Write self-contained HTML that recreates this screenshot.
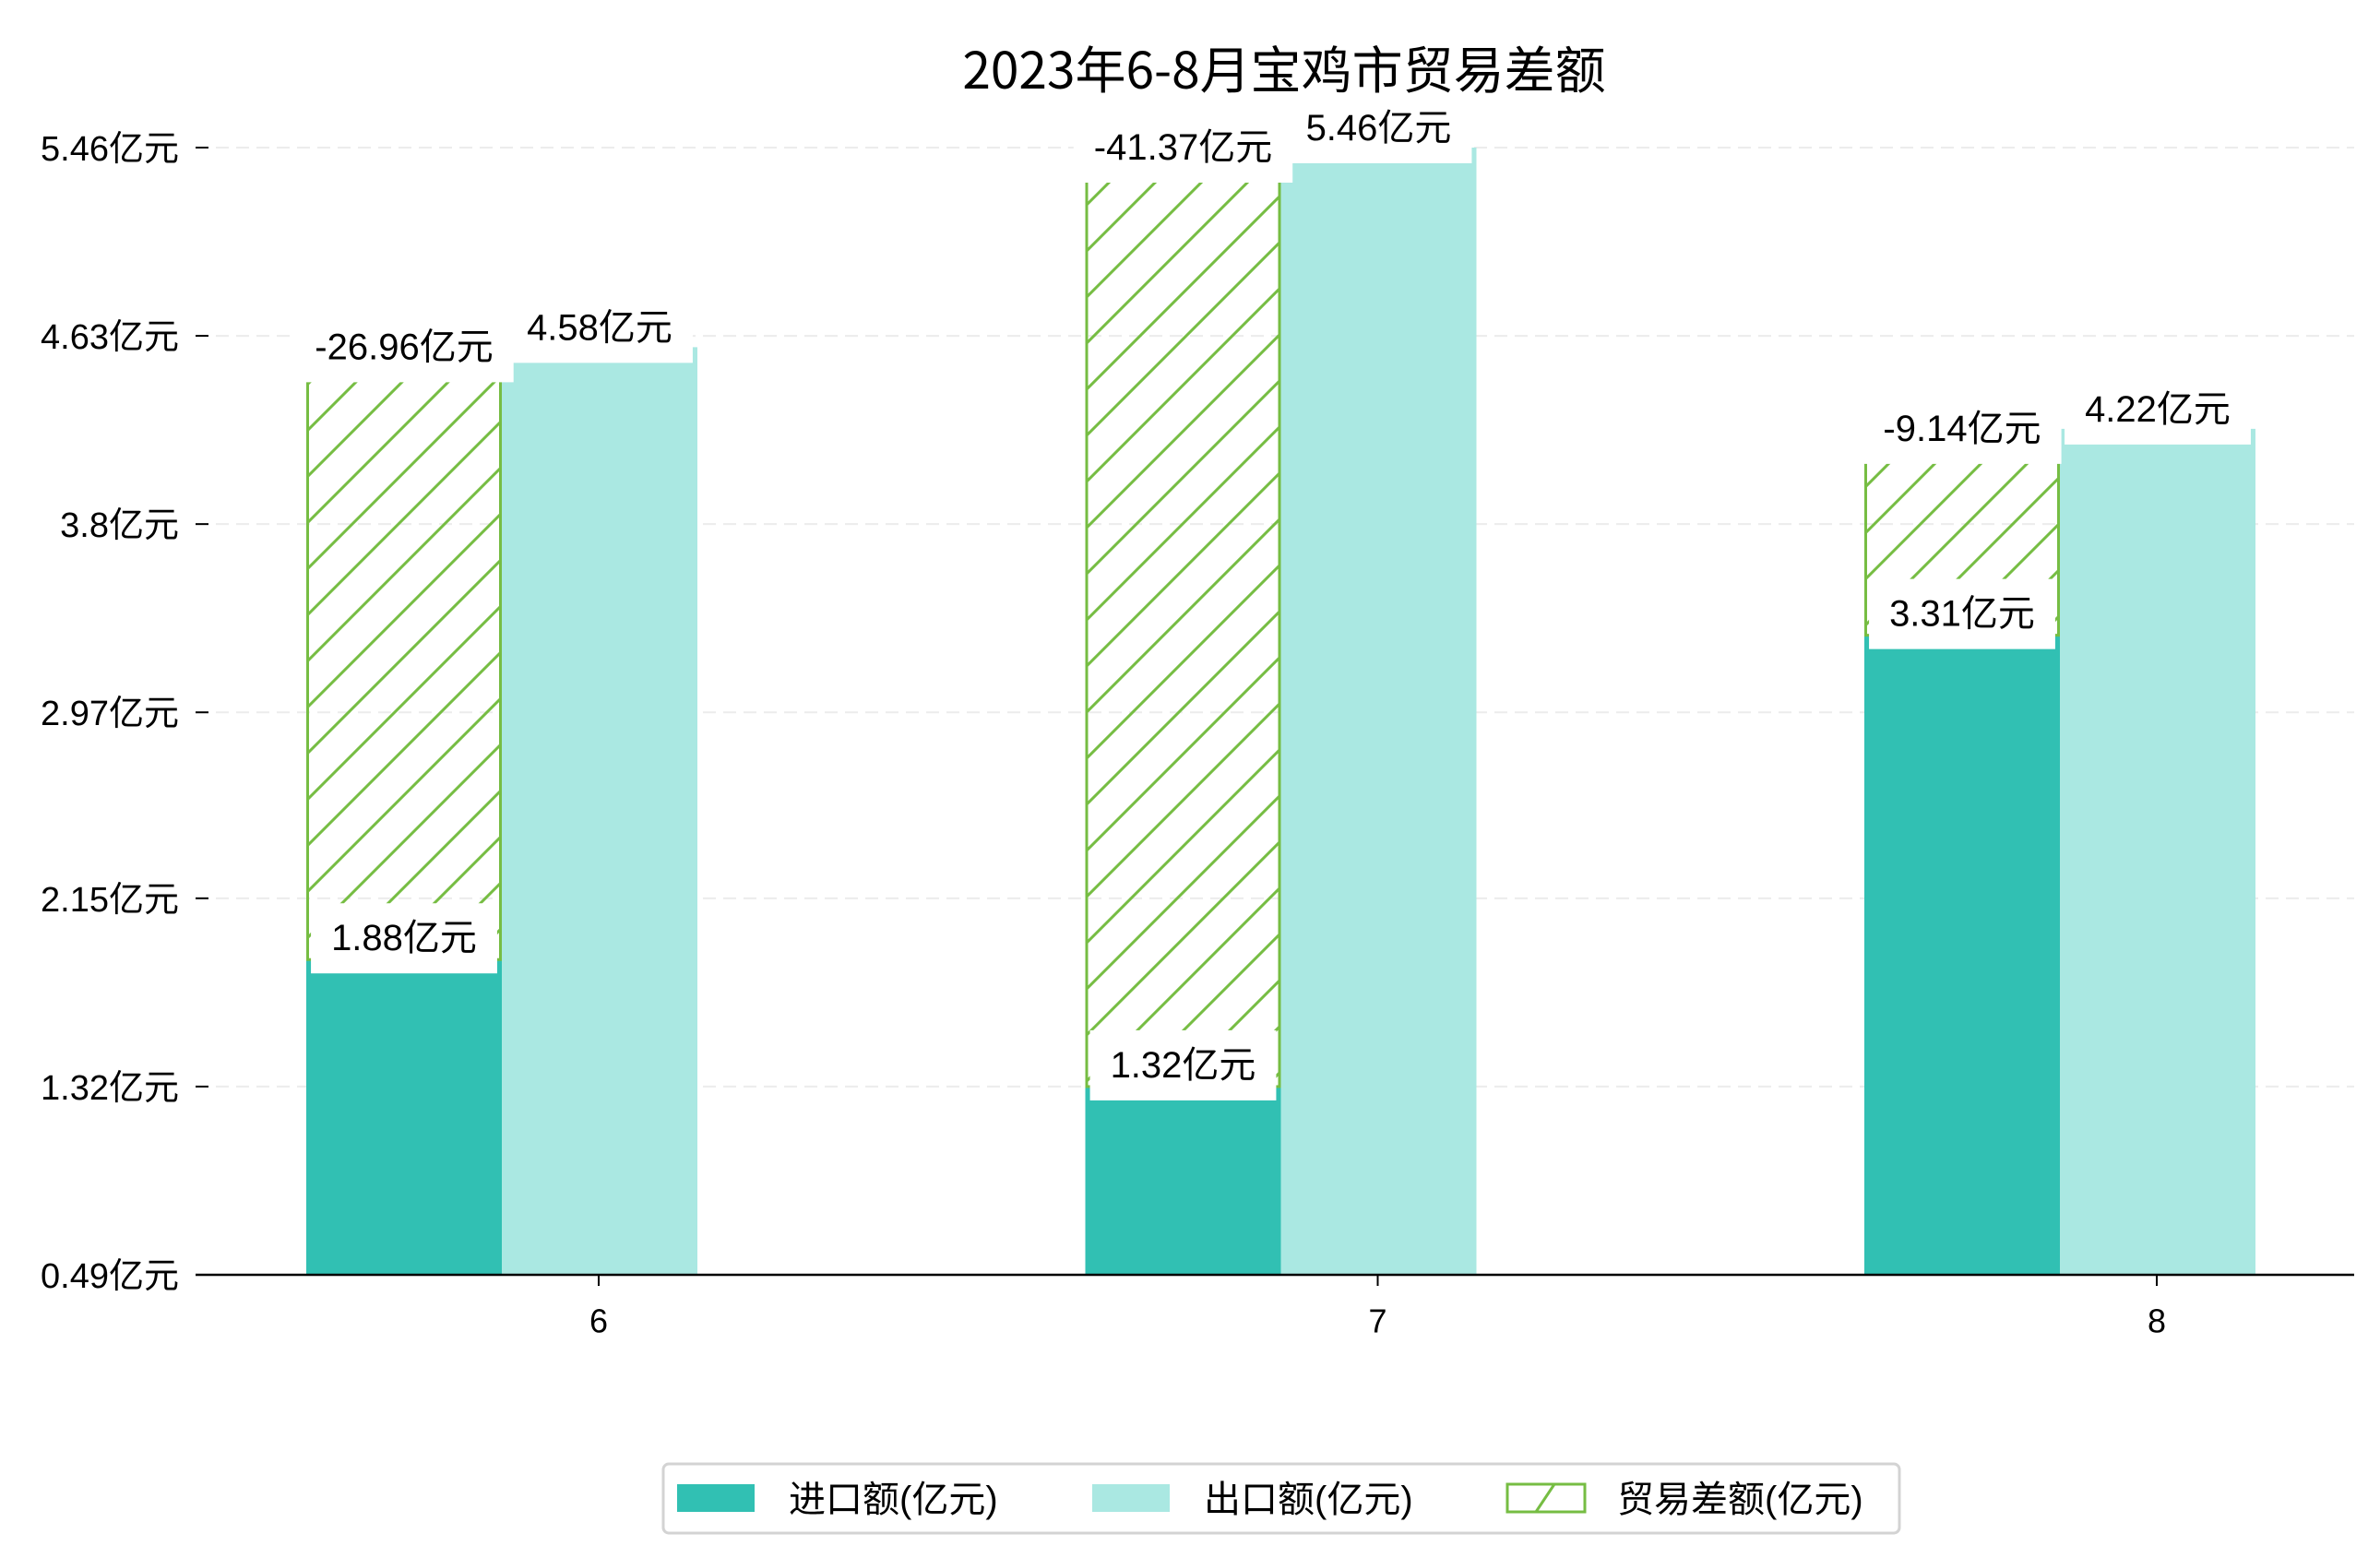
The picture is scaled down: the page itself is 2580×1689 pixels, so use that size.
<!DOCTYPE html>
<html><head><meta charset="utf-8"><style>
html,body{margin:0;padding:0;background:#fff;}
svg{display:block;font-family:"Liberation Sans","Noto Sans CJK SC",sans-serif;}
</style></head><body>
<svg id="chart" width="2580" height="1689" viewBox="0 0 2580 1689" xmlns="http://www.w3.org/2000/svg">
<defs>
<pattern id="hatch" patternUnits="userSpaceOnUse" width="50" height="50">
<line x1="-5" y1="55" x2="55" y2="-5" stroke="#76bd43" stroke-width="3"/>
<line x1="-30" y1="30" x2="30" y2="-30" stroke="#76bd43" stroke-width="3"/>
<line x1="20" y1="80" x2="80" y2="20" stroke="#76bd43" stroke-width="3"/>
</pattern>
</defs>
<text x="1392" y="72" font-size="55" text-anchor="middle" dominant-baseline="central" font-family="'Noto Sans CJK SC',sans-serif" fill="#000">2023年6-8月宝鸡市贸易差额</text>
<g id="grid"></g><g id="bars"></g><g id="labels"></g><g id="axes"></g>
<g>
<rect x="719" y="1587" width="1340" height="75" rx="6" fill="#fff" stroke="#d3d3d3" stroke-width="3"/>
<rect x="734" y="1609" width="84" height="30" fill="#31c0b3"/>
<text x="855" y="1626" font-size="40" dominant-baseline="central">进口额(亿元)</text>
<rect x="1184" y="1609" width="84" height="30" fill="#aae8e2"/>
<text x="1305" y="1626" font-size="40" dominant-baseline="central">出口额(亿元)</text>
<rect x="1634" y="1609" width="84" height="30" fill="#fff" stroke="#76bd43" stroke-width="3"/>
<line x1="1665" y1="1639" x2="1685" y2="1609" stroke="#76bd43" stroke-width="3"/>
<text x="1753" y="1626" font-size="40" dominant-baseline="central">贸易差额(亿元)</text>
</g>
</svg>
<script>
const categories = ["6", "7", "8"];
const importVals = [1.88, 1.32, 3.31];
const exportVals = [4.58, 5.46, 4.22];
const balanceVals = [-26.96, -41.37, -9.14];
const yTicks = [0.49, 1.32, 2.15, 2.97, 3.8, 4.63, 5.46];

const NS = "http://www.w3.org/2000/svg";
const yMin = 0.49, yMax = 5.46, pyBottom = 1382, pyTop = 160;
const xLeft = 212, xRight = 2552;
function yScale(v){ return pyBottom - (v - yMin) / (yMax - yMin) * (pyBottom - pyTop); }
const firstCenter = 649, step = 844.5, barW = 212;
function xCenter(i){ return firstCenter + i * step; }
function mk(tag, attrs, parent){ const e = document.createElementNS(NS, tag); for (const k in attrs) e.setAttribute(k, attrs[k]); parent.appendChild(e); return e; }
const grid = document.getElementById('grid'), bars = document.getElementById('bars'), labels = document.getElementById('labels'), axes = document.getElementById('axes');

yTicks.forEach((t, i) => {
  const y = yScale(t);
  if (i > 0) {
    const g = mk('line', {x1: xLeft, x2: xRight, y1: y, y2: y, stroke: '#ececec', 'stroke-width': 2, 'stroke-dasharray': '14,8'}, grid);
    
    
  }
  const tk = mk('line', {x1: 212, x2: 226, y1: y, y2: y, stroke: '#000', 'stroke-width': 2}, axes);
  
  
  const tl = mk('text', {x: 194, y: y + 2, 'font-size': 38, 'text-anchor': 'end', 'dominant-baseline': 'central'}, axes);
  tl.textContent = t + '亿元';
  
  
});
const base = mk('line', {x1: xLeft, x2: xRight, y1: pyBottom, y2: pyBottom, stroke: '#000', 'stroke-width': 2.5}, axes);



function label(text, cx, cy, name){
  const t = mk('text', {x: cx, y: cy, 'font-size': 40, 'text-anchor': 'middle', 'dominant-baseline': 'central'}, labels);
  t.textContent = text;
  const w = t.getBBox().width + 44;
  const r = document.createElementNS(NS, 'rect');
  r.setAttribute('x', cx - w / 2); r.setAttribute('y', cy - 38); r.setAttribute('width', w); r.setAttribute('height', 76); r.setAttribute('fill', '#fff');
  labels.insertBefore(r, t);
  
  
  
  
}

categories.forEach((c, i) => {
  const cx = xCenter(i);
  const ix = cx - 317, ex = ix + barW;
  const iy = yScale(importVals[i]), ey = yScale(exportVals[i]);
  const ib = mk('rect', {x: ix, y: iy, width: barW, height: pyBottom - iy, fill: '#31c0b3'}, bars);
  
  
  const eb = mk('rect', {x: ex, y: ey, width: barW, height: pyBottom - ey, fill: '#aae8e2'}, bars);
  
  
  const hb = mk('rect', {x: ix + 1.5, y: ey, width: barW - 3, height: iy - ey, fill: 'url(#hatch)', stroke: '#76bd43', 'stroke-width': 3}, bars);
  
  
  const tk = mk('line', {x1: cx, x2: cx, y1: pyBottom, y2: pyBottom + 12, stroke: '#000', 'stroke-width': 2}, axes);
  
  
  const xl = mk('text', {x: cx, y: 1432, 'font-size': 36, 'text-anchor': 'middle', 'dominant-baseline': 'central'}, axes);
  xl.textContent = c;
  
  
  label(exportVals[i] + '亿元', ex + barW / 2, ey - 21, 'export-value-label');
  label(balanceVals[i] + '亿元', ix + barW / 2, ey, 'balance-value-label');
  label(importVals[i] + '亿元', ix + barW / 2, iy - 23, 'import-value-label');
});
</script>
</body></html>
